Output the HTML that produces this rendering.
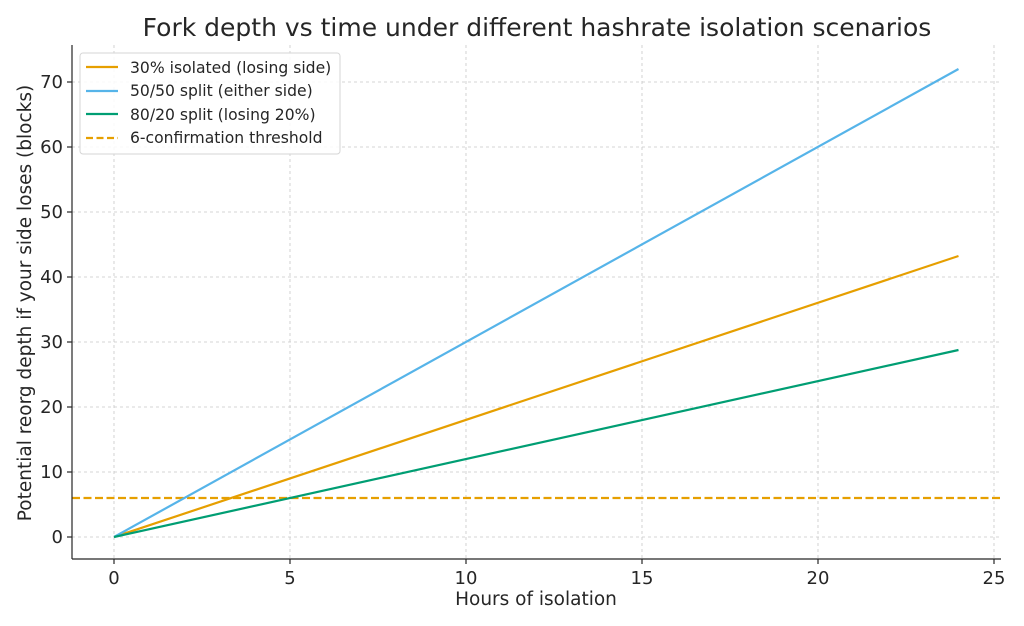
<!DOCTYPE html>
<html><head><style>body{margin:0;background:#fff}svg{display:block}text{font-family:"DejaVu Sans","Liberation Sans",sans-serif;fill:#262626}</style></head><body>
<svg width="1024" height="626" viewBox="0 0 1024 626">
<rect width="1024" height="626" fill="#fff"/>
<g stroke="#c8c8c8" stroke-width="0.8" stroke-dasharray="3,3">
<line x1="114" y1="45" x2="114" y2="559"/><line x1="290" y1="45" x2="290" y2="559"/><line x1="466" y1="45" x2="466" y2="559"/><line x1="642" y1="45" x2="642" y2="559"/><line x1="818" y1="45" x2="818" y2="559"/><line x1="994" y1="45" x2="994" y2="559"/>
<line x1="72" y1="537" x2="1001" y2="537"/><line x1="72" y1="472" x2="1001" y2="472"/><line x1="72" y1="407" x2="1001" y2="407"/><line x1="72" y1="342" x2="1001" y2="342"/><line x1="72" y1="277" x2="1001" y2="277"/><line x1="72" y1="212" x2="1001" y2="212"/><line x1="72" y1="147" x2="1001" y2="147"/><line x1="72" y1="82" x2="1001" y2="82"/>
</g>
<line x1="72" y1="498" x2="1001" y2="498" stroke="#E69F00" stroke-width="2.2" stroke-dasharray="8,3.5"/>
<line x1="114" y1="537" x2="958.5" y2="256" stroke="#E69F00" stroke-width="2.2"/>
<line x1="114" y1="537" x2="958.5" y2="69" stroke="#56B4E9" stroke-width="2.2"/>
<line x1="114" y1="537" x2="958.5" y2="350" stroke="#009E73" stroke-width="2.2"/>
<g stroke="#262626" stroke-width="1.2"><line x1="72" y1="45" x2="72" y2="559"/><line x1="72" y1="559" x2="1001" y2="559"/>
<line x1="114" y1="559" x2="114" y2="564"/><line x1="290" y1="559" x2="290" y2="564"/><line x1="466" y1="559" x2="466" y2="564"/><line x1="642" y1="559" x2="642" y2="564"/><line x1="818" y1="559" x2="818" y2="564"/><line x1="994" y1="559" x2="994" y2="564"/>
<line x1="67" y1="537" x2="72" y2="537"/><line x1="67" y1="472" x2="72" y2="472"/><line x1="67" y1="407" x2="72" y2="407"/><line x1="67" y1="342" x2="72" y2="342"/><line x1="67" y1="277" x2="72" y2="277"/><line x1="67" y1="212" x2="72" y2="212"/><line x1="67" y1="147" x2="72" y2="147"/><line x1="67" y1="82" x2="72" y2="82"/></g>
<g font-size="18" text-anchor="middle"><text x="114" y="584">0</text><text x="290" y="584">5</text><text x="466" y="584">10</text><text x="642" y="584">15</text><text x="818" y="584">20</text><text x="994" y="584">25</text></g>
<g font-size="18" text-anchor="end"><text x="63" y="543">0</text><text x="63" y="478">10</text><text x="63" y="413">20</text><text x="63" y="348">30</text><text x="63" y="283">40</text><text x="63" y="218">50</text><text x="63" y="153">60</text><text x="63" y="88">70</text></g>
<text x="536" y="605" font-size="18.5" text-anchor="middle">Hours of isolation</text>
<text transform="translate(31,303) rotate(-90)" font-size="18.5" text-anchor="middle">Potential reorg depth if your side loses (blocks)</text>
<text x="537" y="36" font-size="25" text-anchor="middle">Fork depth vs time under different hashrate isolation scenarios</text>
<rect x="80" y="53" width="260" height="101" rx="3" fill="#fff" fill-opacity="0.85" stroke="#d6d6d6"/>
<line x1="86" y1="67" x2="118" y2="67" stroke="#E69F00" stroke-width="2.2"/>
<line x1="86" y1="91" x2="118" y2="91" stroke="#56B4E9" stroke-width="2.2"/>
<line x1="86" y1="114" x2="118" y2="114" stroke="#009E73" stroke-width="2.2"/>
<line x1="86" y1="138" x2="118" y2="138" stroke="#E69F00" stroke-width="2.2" stroke-dasharray="7,3.5"/>
<g font-size="15.6"><text x="130" y="73">30% isolated (losing side)</text><text x="130" y="96">50/50 split (either side)</text><text x="130" y="120">80/20 split (losing 20%)</text><text x="130" y="143">6-confirmation threshold</text></g>
</svg>
</body></html>
